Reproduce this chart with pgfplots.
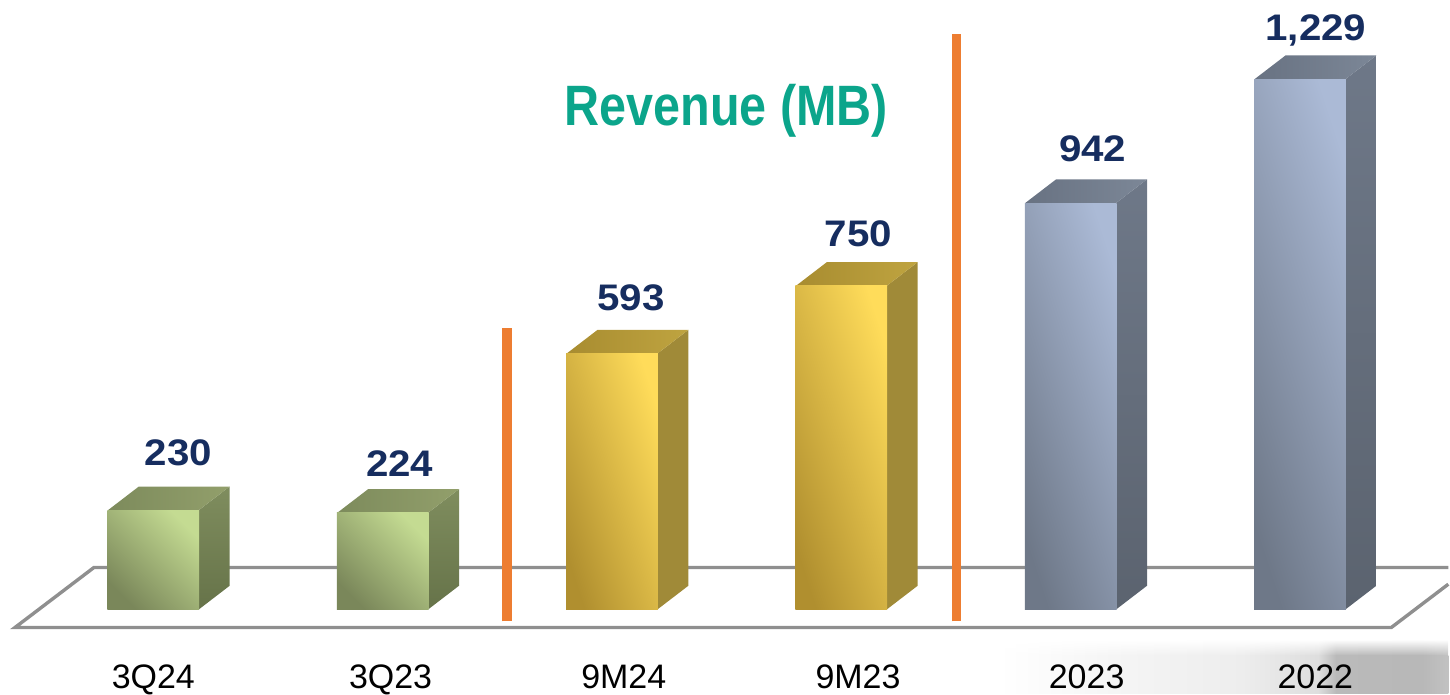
\documentclass[border=0pt]{standalone}
\usepackage{fontspec}
\setmainfont{Liberation Sans}
\newfontfamily\numfont{Liberation Sans}[FakeStretch=1.09]
\usepackage{pgfplots}
\pgfplotsset{compat=1.18}
\usetikzlibrary{fadings}
\definecolor{floorgray}{HTML}{8F8F8F}
\definecolor{orangebar}{HTML}{ED7D31}
\definecolor{navy}{HTML}{162D5F}
\definecolor{teal2}{HTML}{0BA58B}
\pgfdeclarehorizontalshading{smudge}{100bp}{
  color(0bp)=(white);
  color(25bp)=(white);
  color(38bp)=(black!4);
  color(52bp)=(black!7);
  color(60.5bp)=(black!13);
  color(62.5bp)=(black!27);
  color(72bp)=(black!28);
  color(75bp)=(black!24);
  color(100bp)=(black!24)
}
\pgfplotsset{
  frontG/.style={ybar,bar width=0.4,draw=none,bottom color=HTMLgA,top color=HTMLgB,shading angle=-45},
  topG/.style={draw=none,left color=HTMLgC,right color=HTMLgD},
  sideG/.style={draw=none,bottom color=HTMLgE,top color=HTMLgF},
  frontY/.style={ybar,bar width=0.4,draw=none,bottom color=HTMLyA,top color=HTMLyB,shading angle=-72},
  topY/.style={draw=none,left color=HTMLyC,right color=HTMLyD},
  sideY/.style={draw=none,fill=HTMLyE},
  frontB/.style={ybar,bar width=0.4,draw=none,bottom color=HTMLbA,top color=HTMLbB,shading angle=-72},
  topB/.style={draw=none,left color=HTMLbC,right color=HTMLbD},
  sideB/.style={draw=none,bottom color=HTMLbE,top color=HTMLbF},
  lab/.style 2 args={nodes near coords,
    every node near coord/.append style={font=\fontsize{18.5}{20}\numfont\bfseries,text=navy,anchor=center,xshift=#1pt,yshift=#2pt,inner sep=0pt,
      /pgf/number format/1000 sep={,},/pgf/number format/assume math mode=true}},
}
\definecolor{HTMLgA}{HTML}{7A875A}\definecolor{HTMLgB}{HTML}{C4DB92}
\definecolor{HTMLgC}{HTML}{7D8B5C}\definecolor{HTMLgD}{HTML}{929F6B}
\definecolor{HTMLgE}{HTML}{667349}\definecolor{HTMLgF}{HTML}{7F8D5E}
\definecolor{HTMLyA}{HTML}{B08F2F}\definecolor{HTMLyB}{HTML}{FFDC5A}
\definecolor{HTMLyC}{HTML}{A88C30}\definecolor{HTMLyD}{HTML}{BFA440}
\definecolor{HTMLyE}{HTML}{A08A38}
\definecolor{HTMLbA}{HTML}{6E7888}\definecolor{HTMLbB}{HTML}{ABBAD6}
\definecolor{HTMLbC}{HTML}{687282}\definecolor{HTMLbD}{HTML}{7C8797}
\definecolor{HTMLbE}{HTML}{5B636F}\definecolor{HTMLbF}{HTML}{6E7888}
\begin{document}
\begin{tikzpicture}
% background smudge, lower right, behind everything
\path[shading=smudge] (500pt,0pt) rectangle (725pt,19pt);
\path[shading=smudge,path fading=north] (500pt,19pt) rectangle (725pt,27pt);
\begin{axis}[
  at={(0pt,0pt)},anchor=south west,
  scale only axis,width=725pt,height=347pt,
  xmin=-0.66855,xmax=5.6468,ymin=-194.44,ymax=1412.04,
  axis line style={draw=none},
  major tick length=0pt,
  ytick=\empty,
  xtick={0,1.0344,2.0514,3.0727,4.0697,5.0671},
  xticklabels={3Q24,3Q23,9M24,9M23,2023,2022},
  xticklabel style={font=\fontsize{17}{19}\selectfont,text=black,anchor=base,yshift=2.5pt,inner sep=0pt},
  clip=false,
  title={\scalebox{0.852}[1]{\fontsize{28.5}{32}\selectfont\bfseries Revenue (MB)}},
  title style={at={(rel axis cs:0.5014,0.8026)},anchor=base,text=teal2,inner sep=0pt},
]
% floor
\addplot[floorgray,line width=1.7pt,line join=miter] coordinates {(5.6468,58.6)(5.3985,-41.7)(-0.603,-41.7)(-0.2591,97.2)(5.6468,97.2)};
% separators
\addplot[orangebar,line width=4.7pt] coordinates {(1.5418,-27.8)(1.5418,652.8)};
\addplot[orangebar,line width=4.7pt] coordinates {(3.5017,-27.8)(3.5017,1333.3)};
% 3Q24
\addplot[sideG] coordinates {(0.198,0)(0.333,55)(0.333,285)(0.198,230)(0.198,0)};
\addplot[topG] coordinates {(-0.198,230)(0.198,230)(0.333,285)(-0.063,285)(-0.198,230)};
\addplot[frontG,lab={12.5}{28.5}] coordinates {(0,230)};
% 3Q23
\addplot[sideG] coordinates {(1.198,0)(1.333,55)(1.333,279)(1.198,224)(1.198,0)};
\addplot[topG] coordinates {(0.802,224)(1.198,224)(1.333,279)(0.937,279)(0.802,224)};
\addplot[frontG,lab={8.5}{24.5}] coordinates {(1,224)};
% 9M24
\addplot[sideY] coordinates {(2.198,0)(2.333,55)(2.333,648)(2.198,593)(2.198,0)};
\addplot[topY] coordinates {(1.802,593)(2.198,593)(2.333,648)(1.937,648)(1.802,593)};
\addplot[frontY,lab={9.5}{28}] coordinates {(2,593)};
% 9M23
\addplot[sideY] coordinates {(3.198,0)(3.333,55)(3.333,805)(3.198,750)(3.198,0)};
\addplot[topY] coordinates {(2.802,750)(3.198,750)(3.333,805)(2.937,805)(2.802,750)};
\addplot[frontY,lab={8.5}{26}] coordinates {(3,750)};
% 2023
\addplot[sideB] coordinates {(4.198,0)(4.333,55)(4.333,997)(4.198,942)(4.198,0)};
\addplot[topB] coordinates {(3.802,942)(4.198,942)(4.333,997)(3.937,997)(3.802,942)};
\addplot[frontB,lab={11}{27}] coordinates {(4,942)};
% 2022
\addplot[sideB] coordinates {(5.198,0)(5.333,55)(5.333,1284)(5.198,1229)(5.198,0)};
\addplot[topB] coordinates {(4.802,1229)(5.198,1229)(5.333,1284)(4.937,1284)(4.802,1229)};
\addplot[frontB,lab={8}{24.5}] coordinates {(5,1229)};
\end{axis}
\end{tikzpicture}
\end{document}
